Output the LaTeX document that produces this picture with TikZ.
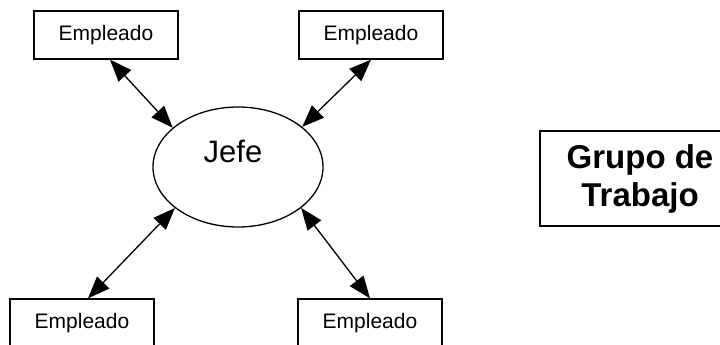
\documentclass[tikz,border=0pt]{standalone}
\usepackage{fontspec}
\setmainfont{Liberation Sans}
\usetikzlibrary{arrows.meta,shapes.geometric}

\begin{document}
\begin{tikzpicture}[x=1pt,y=-1pt,
  line width=1.3pt,
  empleado/.style={draw,rectangle,minimum width=144pt,minimum height=48pt,
    inner sep=0pt,font=\fontsize{21}{25}\selectfont},
  jefebox/.style={draw,ellipse,minimum width=170pt,minimum height=120pt,inner sep=0pt},
  grupobox/.style={draw,rectangle,minimum width=200pt,minimum height=95pt,
    inner sep=0pt,align=center,font=\fontsize{33}{38}\selectfont\bfseries},
  enlace/.style={{Triangle[length=22pt,width=17pt]}-{Triangle[length=22pt,width=17pt]}}]
\useasboundingbox (0,0) rectangle (720,345);

% boxes and the ellipse
\node[empleado] (emp1) at (106,35) {Empleado};
\node[empleado] (emp2) at (371,35) {Empleado};
\node[empleado] (emp3) at (82,323) {Empleado};
\node[empleado] (emp4) at (370,323) {Empleado};
\node[jefebox,label={[font=\fontsize{31}{31}\selectfont,yshift=16pt,xshift=-5pt]center:Jefe}] (jefe) at (238,167) {};
\node[grupobox] (grupo) at (640,178.5) {Grupo de\\Trabajo};

% two-way links
\draw[enlace] ([xshift=4pt]emp1.south) -- (jefe.149);
\draw[enlace] (emp2.south) -- (jefe.32);
\draw[enlace] ([xshift=6pt]emp3.north) -- (jefe.213);
\draw[enlace] (emp4.north) -- (jefe.327);
\end{tikzpicture}
\end{document}
